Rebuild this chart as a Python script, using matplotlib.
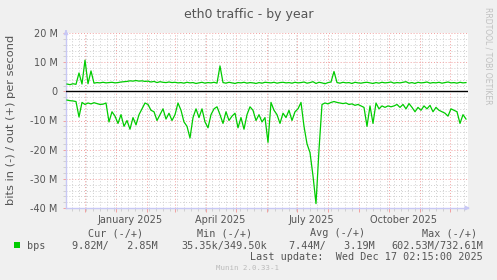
import pandas as pd
import matplotlib
matplotlib.use('Agg')
import matplotlib.pyplot as plt
import matplotlib.dates as mdates
import matplotlib.ticker as mticker
from datetime import datetime

start_date = '2024-11-13'
out_mbps = [
    2.5, 2.3, 2.6, 2.4, 6.3, 2.5, 10.7, 2.6, 7.0, 2.8,
    3.0, 2.9, 3.1, 2.9, 3.0, 3.1, 2.9, 3.0, 3.2, 3.3,
    3.4, 3.6, 3.5, 3.7, 3.5, 3.6, 3.4, 3.5, 3.2, 3.4,
    3.0, 3.3, 3.1, 3.0, 3.2, 3.0, 3.1, 2.9, 3.0, 2.8,
    3.1, 2.9, 3.0, 2.7, 2.9, 3.1, 2.8, 3.0, 2.9, 3.1,
    2.8, 8.7, 3.0, 2.8, 3.1, 2.9, 2.7, 3.0, 2.9, 3.1,
    2.8, 3.0, 2.9, 2.7, 3.0, 2.8, 3.1, 3.0, 2.9, 3.1,
    2.8, 3.0, 3.1, 2.9, 3.0, 2.8, 3.1, 2.9, 3.0, 3.2,
    2.8, 3.0, 3.3, 2.7, 3.1, 2.9, 2.6, 3.0, 3.2, 6.8,
    3.0, 2.8, 3.1, 2.9, 3.0, 2.7, 3.1, 2.9, 2.8, 3.0,
    3.1, 2.9, 2.7, 3.0, 2.8, 3.1, 2.9, 3.0, 3.2, 2.8,
    3.0, 2.9, 3.1, 3.3, 2.8, 3.0, 2.7, 3.1, 2.9, 3.0,
    3.2, 2.8, 3.0, 2.9, 3.1, 2.8, 3.0, 3.2, 2.9, 3.0,
    2.8, 3.1, 2.9, 3.0]
in_mbps = [
    3.0, 3.2, 3.3, 3.5, 8.8, 3.8, 4.5, 4.0, 4.3, 3.9,
    4.2, 4.5, 4.4, 4.0, 10.5, 7.0, 8.5, 11.0, 8.0, 12.0,
    10.0, 13.0, 9.0, 11.5, 8.0, 6.0, 4.0, 4.5, 6.5, 7.0,
    10.0, 8.0, 6.0, 9.5, 7.5, 10.0, 8.0, 4.0, 6.5, 10.5,
    12.0, 16.0, 9.0, 6.0, 9.0, 6.0, 10.5, 12.5, 8.0, 6.0,
    5.3, 8.0, 11.0, 7.0, 10.0, 8.5, 7.5, 12.5, 9.0, 13.0,
    8.0, 5.3, 6.5, 10.0, 8.0, 10.5, 9.0, 17.5, 3.8, 6.5,
    8.0, 11.0, 7.5, 9.0, 6.5, 10.0, 7.0, 6.0, 3.8, 12.0,
    18.0, 21.0, 29.0, 38.5, 20.0, 4.5, 4.0, 4.3, 3.8, 3.5,
    3.8, 4.0, 4.2, 4.0, 4.5, 4.3, 4.8, 4.5, 5.0, 5.5,
    12.0, 5.0, 11.0, 4.0, 6.0, 5.0, 5.5, 5.0, 5.3, 5.0,
    4.5, 5.5, 4.5, 6.0, 4.2, 5.5, 7.0, 5.5, 6.5, 5.0,
    6.0, 4.8, 7.0, 5.5, 6.5, 7.0, 7.5, 8.5, 6.0, 6.5,
    7.0, 11.0, 8.0, 9.5]

month_labels = ['January 2025', 'April 2025', 'July 2025', 'October 2025']
label_dates = [datetime(2025, 1, 15), datetime(2025, 4, 15), datetime(2025, 7, 15), datetime(2025, 10, 15)]

legend_header = ['Cur (-/+)', 'Min (-/+)', 'Avg (-/+)', 'Max (-/+)']
legend_values = ['9.82M/   2.85M', '35.35k/349.50k', '7.44M/   3.19M', '602.53M/732.61M']

W, H = 497, 280
GREEN = '#00CC00'
AXIS = '#C8C8F5'
TXT = '#555555'

def px(x, y):
    return x / W, 1 - y / H

dates = pd.date_range(start_date, periods=len(out_mbps), freq='3D')

fig = plt.figure(figsize=(W / 100, H / 100), dpi=100, facecolor='#F0F0F0')
ax = fig.add_axes([66 / W, 72 / H, (468 - 66) / W, (208 - 33) / H])
ax.set_facecolor('white')

ax.plot(dates, out_mbps, color=GREEN, lw=0.9, zorder=3)
ax.plot(dates, [-v for v in in_mbps], color=GREEN, lw=0.9, zorder=3)
ax.axhline(0, color='black', lw=1.0, zorder=4)

ax.set_xlim(datetime(2024, 11, 12), datetime(2025, 12, 19))
ax.set_ylim(-40, 20)

ax.xaxis.set_major_locator(mdates.MonthLocator())
ax.xaxis.set_minor_locator(mdates.WeekdayLocator(byweekday=mdates.MO))
ax.xaxis.set_major_formatter(mticker.NullFormatter())
ax.yaxis.set_major_locator(mticker.MultipleLocator(10))
ax.yaxis.set_minor_locator(mticker.MultipleLocator(2))
ax.yaxis.set_major_formatter(mticker.FuncFormatter(lambda v, p: '0' if v == 0 else f'{int(v)} M'))

ax.set_axisbelow(True)
ax.grid(which='major', color='#F2A0A0', linestyle=(0, (1, 2)), lw=0.7)
ax.grid(which='minor', color='#CFCFCF', linestyle=(0, (1, 2)), lw=0.7)

ax.tick_params(axis='x', which='major', length=3, color='#F2A0A0', width=0.7)
ax.tick_params(axis='x', which='minor', length=2, color='#CFCFCF', width=0.7)
ax.tick_params(axis='y', which='major', length=2, color='#F2A0A0', width=0.7,
               labelsize=7, labelcolor=TXT, pad=4)
ax.tick_params(axis='y', which='minor', length=2, color='#CFCFCF', width=0.7)

for s in ['top', 'right']:
    ax.spines[s].set_visible(False)
for s in ['left', 'bottom']:
    ax.spines[s].set_color(AXIS)
    ax.spines[s].set_linewidth(1.0)

# Pfeile an den Achsen
ax.annotate('', xy=(0, 1.035), xytext=(0, 0.99), xycoords='axes fraction',
            arrowprops=dict(arrowstyle='-|>', color=AXIS, lw=1, mutation_scale=6), annotation_clip=False)
ax.annotate('', xy=(1.012, 0), xytext=(0.99, 0), xycoords='axes fraction',
            arrowprops=dict(arrowstyle='-|>', color=AXIS, lw=1, mutation_scale=6), annotation_clip=False)

for d, lbl in zip(label_dates, month_labels):
    ax.text(d, -12 / 175, lbl, transform=ax.get_xaxis_transform(), ha='center', va='center',
            fontsize=7, color=TXT)

fig.text(*px(249, 18), 'eth0 traffic - by year', ha='center', va='baseline', fontsize=9, color=TXT)
fig.text(*px(11, 120), 'bits in (-) / out (+) per second', rotation=90, ha='center', va='center',
         fontsize=8.2, color=TXT)
fig.text(*px(488, 56), 'RRDTOOL / TOBI OETIKER', rotation=270, ha='center', va='center',
         fontsize=5.5, color='#C0C0C0')

mono = 'DejaVu Sans Mono'
for txt, xr in zip(legend_header, [143, 252, 365, 477]):
    fig.text(*px(xr, 233), txt, ha='right', va='center', fontsize=7.3, family=mono, color=TXT)
for txt, xr in zip(legend_values, [158, 267, 375, 483]):
    fig.text(*px(xr, 246), txt, ha='right', va='center', fontsize=7.3, family=mono, color=TXT)
fig.text(*px(27, 246), 'bps', ha='left', va='center', fontsize=7.3, family=mono, color=TXT)
fig.patches.append(plt.Rectangle(px(14, 248), 6 / W, 6 / H, transform=fig.transFigure,
                                 facecolor=GREEN, edgecolor='none'))
fig.text(*px(483, 257), 'Last update:  Wed Dec 17 02:15:00 2025', ha='right', va='center',
         fontsize=7.3, family=mono, color=TXT)
fig.text(*px(248, 268), 'Munin 2.0.33-1', ha='center', va='center', fontsize=5.3, family=mono,
         color='#BBBBBB')

fig.savefig('out.png', dpi=100, facecolor=fig.get_facecolor())
